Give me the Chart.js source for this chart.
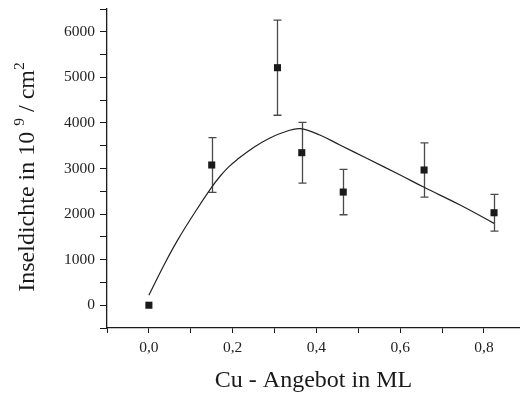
<!DOCTYPE html>
<html>
<head>
<meta charset="utf-8">
<script src="https://cdn.jsdelivr.net/npm/chart.js@4/dist/chart.umd.min.js"></script>
<style>
  html, body { margin: 0; padding: 0; background: #fff; overflow: hidden; }
  #wrap { width: 520px; height: 399px; }
</style>
</head>
<body>
<div id="wrap"><canvas id="c" width="520" height="399"></canvas></div>
<script>
// Measured island density vs. Cu coverage
const coverage = [0.0, 0.15, 0.307, 0.365, 0.464, 0.657, 0.824];
const density  = [0, 3077, 5212, 3347, 2483, 2967, 2029];
const densityErr = [0, 600, 1044, 666, 498, 597, 402];

// Fitted guide curve, read along its path
const fitX = [0.0, 0.038, 0.070, 0.110, 0.150, 0.170, 0.190, 0.209, 0.249, 0.289, 0.329, 0.361, 0.408, 0.456, 0.520, 0.600, 0.657, 0.743, 0.824];
const fitY = [220, 916, 1450, 2040, 2590, 2830, 3030, 3182, 3457, 3671, 3817, 3875, 3736, 3516, 3224, 2857, 2587, 2198, 1796];

// Axis ticks
const xTicks = [-0.1, 0.0, 0.1, 0.2, 0.3, 0.4, 0.5, 0.6, 0.7, 0.8];
const yTicks = [-500, 0, 500, 1000, 1500, 2000, 2500, 3000, 3500, 4000, 4500, 5000, 5500, 6000, 6500];

const SERIF = '"Liberation Serif", "DejaVu Serif", serif';
const INK = '#1a1a1a';

const points = coverage.map((x, i) => ({ x: x, y: density[i] }));
const curve = fitX.map((x, i) => ({ x: x, y: fitY[i] }));

const errorBars = {
  id: 'errorBars',
  beforeDatasetsDraw(chart) {
    const ctx = chart.ctx;
    const xs = chart.scales.x, ys = chart.scales.y;
    ctx.save();
    ctx.strokeStyle = '#4a4a4a';
    ctx.lineWidth = 1.3;
    coverage.forEach((x, i) => {
      const e = densityErr[i];
      if (!e) return;
      const px = Math.round(xs.getPixelForValue(x)) + 0.5;
      const top = ys.getPixelForValue(density[i] + e);
      const bot = ys.getPixelForValue(density[i] - e);
      ctx.beginPath();
      ctx.moveTo(px, top); ctx.lineTo(px, bot);
      ctx.moveTo(px - 4, top); ctx.lineTo(px + 4, top);
      ctx.moveTo(px - 4, bot); ctx.lineTo(px + 4, bot);
      ctx.stroke();
    });
    ctx.restore();
  }
};

const axisTitles = {
  id: 'axisTitles',
  afterDraw(chart) {
    const ctx = chart.ctx;
    const area = chart.chartArea;
    ctx.save();
    ctx.fillStyle = INK;
    // x-axis title
    ctx.font = '24px ' + SERIF;
    ctx.textAlign = 'center';
    ctx.textBaseline = 'alphabetic';
    ctx.fillText('Cu - Angebot in ML', (area.left + area.right) / 2, 387);

    // y-axis title with superscripts
    const big = '24px ' + SERIF, small = '15.5px ' + SERIF;
    const parts = [
      { t: 'Inseldichte in 10 ', f: big, dy: 0 },
      { t: '9', f: small, dy: -10.5 },
      { t: ' / cm', f: big, dy: 0 },
      { t: '2', f: small, dy: -10.5 }
    ];
    let total = 0;
    parts.forEach(p => { ctx.font = p.f; p.w = ctx.measureText(p.t).width; total += p.w; });
    ctx.translate(34, 177);
    ctx.rotate(-Math.PI / 2);
    ctx.textAlign = 'left';
    let cx = -total / 2;
    parts.forEach(p => {
      ctx.font = p.f;
      ctx.fillText(p.t, cx, p.dy);
      cx += p.w;
    });
    ctx.restore();
  }
};

new Chart(document.getElementById('c'), {
  type: 'scatter',
  data: {
    datasets: [
      {
        label: 'Fit',
        data: curve,
        showLine: true,
        borderColor: '#222',
        borderWidth: 1.2,
        pointRadius: 0,
        tension: 0.4,
        fill: false,
        order: 2
      },
      {
        label: 'Inseldichte',
        data: points,
        pointStyle: 'rect',
        pointRadius: 5,
        backgroundColor: INK,
        borderColor: INK,
        borderWidth: 0,
        showLine: false,
        order: 1
      }
    ]
  },
  options: {
    responsive: false,
    animation: false,
    devicePixelRatio: 1,
    layout: { autoPadding: false, padding: { top: 9, right: 0, left: 0, bottom: 0 } },
    plugins: { legend: { display: false }, tooltip: { enabled: false } },
    scales: {
      x: {
        type: 'linear',
        min: -0.1,
        max: 0.886,
        afterBuildTicks: s => { s.ticks = xTicks.map(v => ({ value: v })); },
        afterFit: s => { s.height = 71; s.paddingLeft = 0; s.paddingRight = 0; },
        grid: { display: true, drawOnChartArea: false, tickLength: 5, color: INK, lineWidth: 1 },
        border: { display: true, color: INK, width: 1.3 },
        ticks: {
          color: '#222',
          padding: 6,
          font: { family: SERIF, size: 15.5 },
          autoSkip: false,
          maxRotation: 0,
          callback: v => (Math.round(v * 10) % 2 === 0) ? v.toFixed(1).replace('.', ',') : ''
        }
      },
      y: {
        type: 'linear',
        min: -500,
        max: 6500,
        afterBuildTicks: s => { s.ticks = yTicks.map(v => ({ value: v })); },
        afterFit: s => { s.width = 107; s.paddingTop = 0; s.paddingBottom = 0; },
        grid: { display: true, drawOnChartArea: false, tickLength: 7, color: INK, lineWidth: 1 },
        border: { display: true, color: INK, width: 1.3 },
        ticks: {
          color: '#222',
          padding: 5,
          font: { family: SERIF, size: 15.5 },
          autoSkip: false,
          callback: v => (v % 1000 === 0) ? String(v) : ''
        }
      }
    }
  },
  plugins: [errorBars, axisTitles]
});
</script>
</body>
</html>
